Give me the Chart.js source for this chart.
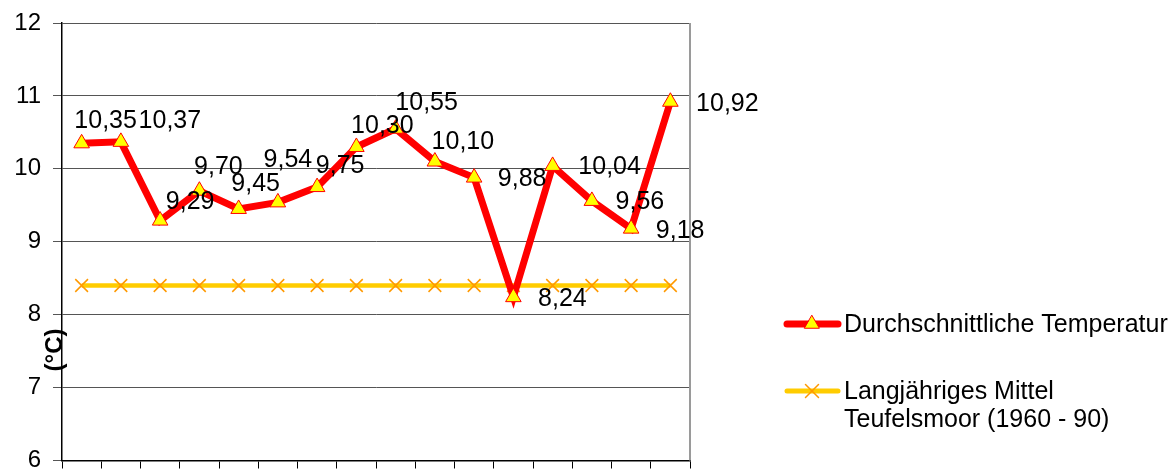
<!DOCTYPE html>
<html>
<head>
<meta charset="utf-8">
<script src="https://cdn.jsdelivr.net/npm/chart.js"></script>
<style>
  html, body { margin: 0; padding: 0; background: #fff; }
  #wrap { width: 1170px; height: 471px; }
</style>
</head>
<body>
<div id="wrap"><canvas id="tempChart" width="1170" height="471"></canvas></div>
<script>
// data
var years = ['1990', '1991', '1992', '1993', '1994', '1995', '1996', '1997',
             '1998', '1999', '2000', '2001', '2002', '2003', '2004', '2005'];
var avgTemp = [10.35, 10.37, 9.29, 9.70, 9.45, 9.54, 9.75, 10.30,
               10.55, 10.10, 9.88, 8.24, 10.04, 9.56, 9.18, 10.92];
var longTermMean = [8.4, 8.4, 8.4, 8.4, 8.4, 8.4, 8.4, 8.4,
                    8.4, 8.4, 8.4, 8.4, 8.4, 8.4, 8.4, 8.4];
var yTicks = [6, 7, 8, 9, 10, 11, 12];

// where each value label sits relative to its point (text centre, px)
var labelOffsets = [[24, -22], [49, -21], [30, -18], [19, -24], [17, -25], [10, -42], [23, -21], [26, -21],
                    [31, -26], [28, -19], [48, 2], [49, 2], [57, 1], [48, 1], [49, 2], [57, 2]];

var FONT = '"Liberation Sans", Arial, sans-serif';

function fmt(v) {
  return v.toFixed(2).replace('.', ',');
}

function drawTriangle(ctx, x, y, r) {
  var side = r * Math.sqrt(3);
  var h = side * Math.sqrt(3) / 2;
  ctx.beginPath();
  ctx.moveTo(x, y - h * 2 / 3);
  ctx.lineTo(x + side / 2, y + h / 3);
  ctx.lineTo(x - side / 2, y + h / 3);
  ctx.closePath();
  ctx.fillStyle = '#ffff00';
  ctx.fill();
  ctx.strokeStyle = '#ff0000';
  ctx.lineWidth = 1;
  ctx.stroke();
}

function drawCross(ctx, x, y, r) {
  ctx.beginPath();
  ctx.moveTo(x - r, y - r); ctx.lineTo(x + r, y + r);
  ctx.moveTo(x + r, y - r); ctx.lineTo(x - r, y + r);
  ctx.strokeStyle = '#ff9900';
  ctx.lineWidth = 1.5;
  ctx.stroke();
}

var extras = {
  id: 'extras',
  beforeDatasetsDraw: function (chart) {
    var ctx = chart.ctx, a = chart.chartArea;
    // right frame of plot
    ctx.save();
    ctx.strokeStyle = '#9a9a9a';
    ctx.lineWidth = 2;
    ctx.beginPath();
    ctx.moveTo(a.right, a.top);
    ctx.lineTo(a.right, a.bottom);
    ctx.stroke();
    ctx.restore();
  },
  afterDatasetsDraw: function (chart) {
    var ctx = chart.ctx;
    var meta = chart.getDatasetMeta(0);
    ctx.save();
    ctx.font = '25px ' + FONT;
    ctx.fillStyle = '#000';
    ctx.textAlign = 'center';
    ctx.textBaseline = 'middle';
    meta.data.forEach(function (pt, i) {
      ctx.fillText(fmt(avgTemp[i]), pt.x + labelOffsets[i][0], pt.y + labelOffsets[i][1]);
    });

    // y axis title
    ctx.save();
    ctx.translate(55, 350);
    ctx.rotate(-Math.PI / 2);
    ctx.font = 'bold 24px ' + FONT;
    ctx.fillText('(°C)', 0, 0);
    ctx.restore();

    // legend
    ctx.textAlign = 'left';
    ctx.lineCap = 'round';
    ctx.strokeStyle = '#ff0000';
    ctx.lineWidth = 7;
    ctx.beginPath();
    ctx.moveTo(787, 324); ctx.lineTo(838, 324);
    ctx.stroke();
    drawTriangle(ctx, 812, 324, 8.5);
    ctx.fillStyle = '#000';
    ctx.fillText('Durchschnittliche Temperatur', 844, 325);

    ctx.strokeStyle = '#ffcc00';
    ctx.lineWidth = 5;
    ctx.beginPath();
    ctx.moveTo(787, 391); ctx.lineTo(838, 391);
    ctx.stroke();
    drawCross(ctx, 812, 391, 6.5);
    ctx.fillStyle = '#000';
    ctx.fillText('Langjähriges Mittel', 844, 392);
    ctx.fillText('Teufelsmoor (1960 - 90)', 844, 420);
    ctx.restore();
  }
};

function renderChart() {
  var ctx = document.getElementById('tempChart');
  new Chart(ctx, {
    type: 'line',
    data: {
      labels: years,
      datasets: [{
        label: 'Durchschnittliche Temperatur',
        data: avgTemp,
        borderColor: '#ff0000',
        borderWidth: 7,
        tension: 0,
        pointStyle: 'triangle',
        pointRadius: 9,
        pointBackgroundColor: '#ffff00',
        pointBorderColor: '#ff0000',
        pointBorderWidth: 1
      }, {
        label: 'Langjähriges Mittel Teufelsmoor (1960 - 90)',
        data: longTermMean,
        borderColor: '#ffcc00',
        borderWidth: 4.5,
        tension: 0,
        pointStyle: 'crossRot',
        pointRadius: 9,
        pointBorderColor: '#ff9900',
        pointBorderWidth: 1.5
      }]
    },
    options: {
      responsive: false,
      animation: false,
      layout: { padding: { top: 23, right: 480, bottom: 0, left: 0 } },
      plugins: {
        legend: { display: false },
        tooltip: { enabled: false }
      },
      scales: {
        x: {
          offset: true,
          grid: { offset: true, drawOnChartArea: false, drawTicks: true, tickLength: 8, color: '#000' },
          border: { color: '#000', width: 1.5 },
          ticks: { display: false },
          afterFit: function (s) { s.height = 8; }
        },
        y: {
          min: 6,
          max: 12,
          afterBuildTicks: function (s) {
            s.ticks = yTicks.map(function (v) { return { value: v }; });
          },
          grid: { color: '#555', tickLength: 9, lineWidth: 1 },
          border: { color: '#000', width: 1.5 },
          ticks: {
            padding: 12,
            color: '#000',
            font: { family: FONT, size: 24 }
          },
          afterFit: function (s) {
            s.width = 62;
            s.paddingTop = 0;
            s.paddingBottom = 0;
          }
        }
      }
    },
    plugins: [extras]
  });
}

renderChart();
</script>
</body>
</html>
